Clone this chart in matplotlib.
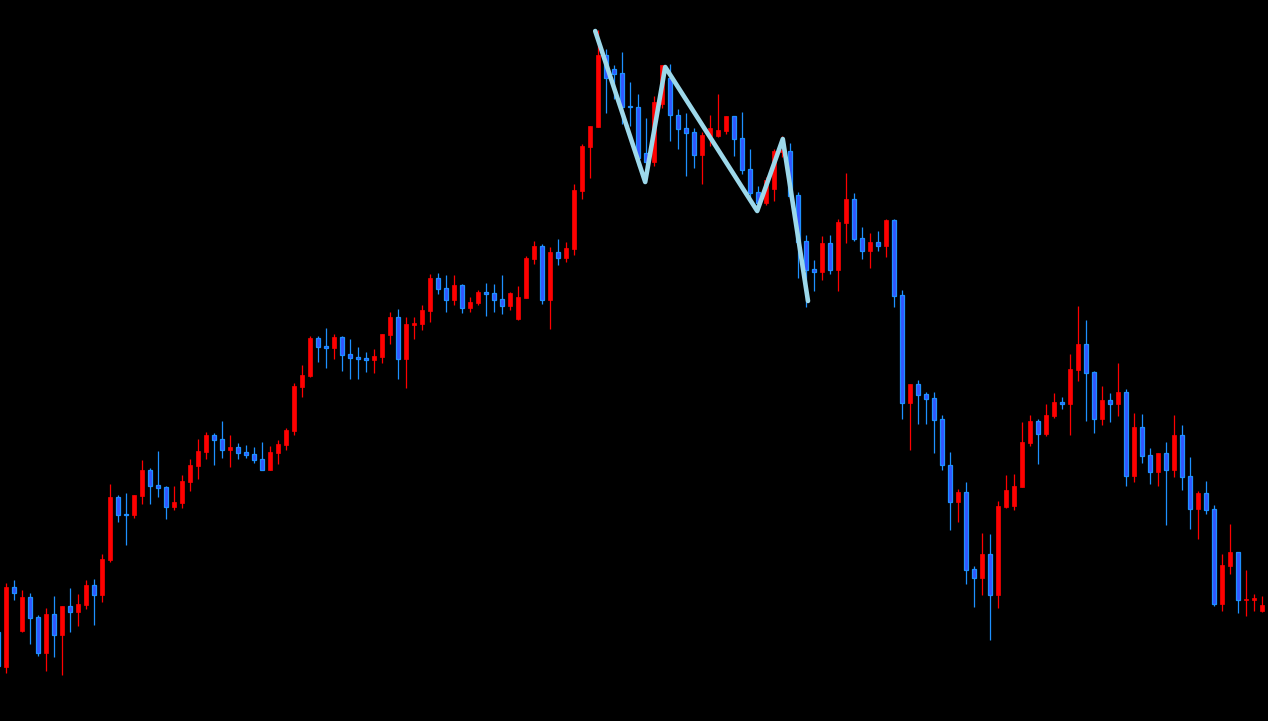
import matplotlib
matplotlib.use("Agg")
import matplotlib.pyplot as plt
import numpy as np

# Candle readings (price scale runs downward: smaller number = higher on chart)
# columns: open, high, low, close ; first entry is the partially visible candle at index -1
start_index = -1
opens = [632, 667, 587, 631, 597, 617, 653, 614, 635, 606, 612, 605, 585, 595, 560, 497, 514, 515, 496, 470,
         485, 487, 507, 503, 482, 466, 452, 435, 439, 450, 447, 452, 454, 459, 470, 453, 445, 431, 387, 376,
         338, 346, 348, 337, 354, 357, 358, 360, 357, 335, 317, 359, 325, 324, 311, 278, 288, 300, 285, 308,
         303, 292, 293, 299, 306, 319, 298, 259, 246, 300, 252, 258, 249, 191, 147, 127, 55, 69, 73, 106,
         107, 153, 162, 104, 78, 115, 128, 132, 155, 136, 136, 131, 116, 138, 169, 192, 203, 189, 152, 151,
         195, 241, 269, 272, 243, 270, 223, 199, 238, 251, 242, 246, 220, 295, 403, 384, 394, 398, 419, 465,
         502, 492, 569, 578, 554, 595, 507, 506, 487, 443, 421, 434, 416, 402, 404, 370, 344, 372, 419, 400,
         404, 392, 476, 427, 455, 472, 453, 470, 435, 476, 509, 493, 509, 604, 566, 552, 600, 600, 611]
highs = [630, 583, 580, 590, 593, 615, 608, 596, 606, 588, 594, 580, 579, 554, 484, 495, 493, 495, 460, 468,
         451, 486, 486, 475, 459, 439, 432, 433, 421, 435, 443, 445, 447, 442, 446, 440, 428, 383, 365, 336,
         336, 328, 334, 336, 339, 347, 352, 349, 334, 312, 309, 317, 317, 305, 274, 273, 275, 275, 284, 297,
         290, 283, 284, 275, 292, 286, 256, 241, 244, 247, 239, 242, 184, 144, 126, 30, 49, 65, 52, 82,
         94, 118, 96, 65, 64, 109, 113, 128, 132, 115, 94, 116, 116, 112, 149, 186, 177, 149, 136, 143,
         192, 235, 260, 236, 235, 219, 173, 193, 227, 233, 231, 219, 219, 290, 384, 380, 392, 392, 415, 452,
         489, 482, 566, 533, 534, 501, 475, 474, 422, 415, 419, 404, 393, 397, 354, 306, 320, 371, 386, 393,
         363, 389, 413, 414, 448, 453, 442, 415, 425, 457, 491, 481, 505, 554, 524, 552, 570, 594, 596]
lows = [668, 673, 600, 632, 644, 656, 671, 657, 675, 632, 626, 609, 625, 602, 562, 522, 545, 518, 504, 504,
        497, 519, 510, 508, 491, 479, 459, 465, 458, 467, 459, 458, 463, 470, 470, 464, 450, 435, 397, 377,
        362, 368, 359, 371, 379, 379, 372, 373, 363, 344, 379, 388, 339, 330, 322, 294, 312, 305, 313, 312,
        305, 316, 312, 314, 310, 320, 298, 264, 304, 329, 265, 262, 255, 199, 178, 127, 113, 99, 124, 126,
        166, 167, 166, 108, 141, 149, 176, 168, 184, 146, 137, 134, 156, 174, 198, 208, 205, 201, 157, 198,
        278, 307, 291, 280, 274, 291, 243, 241, 259, 268, 251, 257, 307, 419, 450, 424, 424, 453, 470, 530,
        522, 584, 607, 595, 640, 608, 508, 510, 487, 446, 464, 436, 418, 409, 435, 381, 421, 433, 425, 422,
        416, 486, 482, 463, 484, 486, 525, 477, 490, 529, 539, 514, 606, 611, 574, 613, 616, 611, 612]
closes = [666, 587, 593, 597, 618, 653, 614, 635, 606, 612, 604, 585, 595, 559, 497, 515, 515, 495, 470, 486,
          488, 507, 502, 481, 465, 451, 435, 440, 450, 447, 453, 455, 460, 470, 452, 444, 430, 386, 375, 338,
          347, 348, 337, 355, 358, 359, 360, 356, 334, 317, 359, 324, 323, 310, 278, 289, 300, 285, 308, 302,
          292, 294, 300, 306, 293, 297, 258, 246, 300, 252, 258, 248, 190, 146, 126, 55, 78, 74, 107, 107,
          158, 162, 102, 65, 115, 129, 133, 155, 135, 128, 130, 116, 139, 170, 193, 203, 180, 151, 150, 196,
          242, 270, 272, 243, 270, 222, 199, 239, 251, 242, 246, 220, 296, 403, 384, 395, 399, 420, 465, 502,
          492, 570, 578, 554, 595, 506, 490, 486, 442, 421, 434, 415, 402, 404, 369, 344, 373, 419, 400, 404,
          392, 476, 427, 456, 472, 453, 470, 435, 477, 509, 493, 510, 604, 565, 552, 600, 599, 598, 605]

# ZigZag overlay vertices (candle index, price)
zz_index = [73.65, 79.9, 82.4, 93.9, 97.1, 100.25]
zz_price = [31, 182, 67, 211, 139, 301]

UP_COLOR = "#ff0000"
DOWN_FACE = "#3355ff"
DOWN_EDGE = "#1e90ff"
ZZ_COLOR = "#9dd8ea"

fig = plt.figure(figsize=(12.68, 7.21), dpi=100, facecolor="black")
ax = fig.add_axes([0, 0, 1, 1])
ax.set_facecolor("black")

o = np.array(opens, float)
h = np.array(highs, float)
l = np.array(lows, float)
c = np.array(closes, float)
x = np.arange(len(o)) + start_index
up = c < o  # smaller number is higher

body_lo = np.minimum(o, c)
body_h = np.maximum(np.abs(o - c), 1.0)

# wicks
ax.vlines(x[up], h[up], l[up], color=UP_COLOR, linewidth=0.9, zorder=2)
ax.vlines(x[~up], h[~up], l[~up], color=DOWN_EDGE, linewidth=0.9, zorder=2)
# bodies
ax.bar(x[up], body_h[up], bottom=body_lo[up], width=0.62, color=UP_COLOR,
       edgecolor=UP_COLOR, linewidth=0.5, zorder=3)
ax.bar(x[~up], body_h[~up], bottom=body_lo[~up], width=0.56, color=DOWN_FACE,
       edgecolor=DOWN_EDGE, linewidth=0.9, zorder=3)

ax.plot(zz_index, zz_price, color=ZZ_COLOR, linewidth=3.3, solid_capstyle="round",
        solid_joinstyle="round", zorder=5)

ax.set_xlim(-0.75, 157.75)
ax.set_ylim(721, 0)
ax.axis("off")

fig.savefig("out.png", dpi=100, facecolor="black")
